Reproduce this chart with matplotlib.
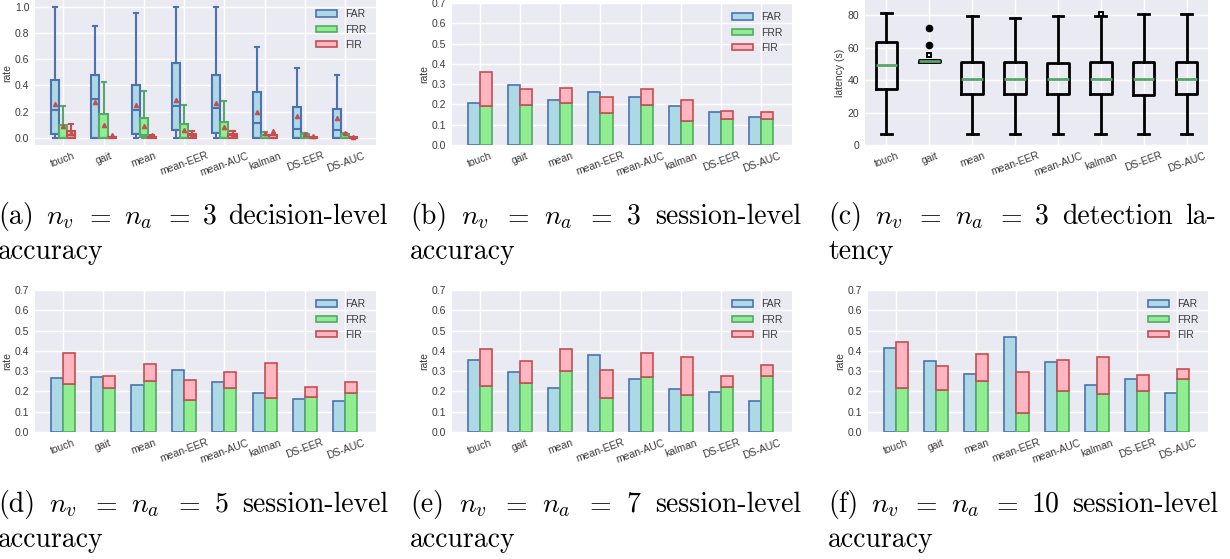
import matplotlib
matplotlib.use("Agg")
import matplotlib.pyplot as plt
from matplotlib.patches import Patch

plt.rcParams['mathtext.fontset'] = 'cm'
plt.rcParams['font.family'] = ['Liberation Sans', 'DejaVu Sans']

# ---------------- data ----------------
methods = ['touch', 'gait', 'mean', 'mean-EER', 'mean-AUC', 'kalman', 'DS-EER', 'DS-AUC']
series_names = ['FAR', 'FRR', 'FIR']

# (a) decision-level accuracy, box statistics per method
far_lo = [0.0, 0.0, 0.0, 0.0, 0.0, 0.0, 0.0, 0.0]
far_q1 = [0.03, 0.0, 0.03, 0.06, 0.04, 0.0, 0.0, 0.0]
far_med = [0.21, 0.30, 0.21, 0.24, 0.225, 0.115, 0.065, 0.06]
far_q3 = [0.44, 0.48, 0.40, 0.57, 0.48, 0.35, 0.235, 0.22]
far_hi = [1.0, 0.85, 0.95, 1.0, 1.0, 0.695, 0.53, 0.48]
far_mean = [0.26, 0.275, 0.25, 0.29, 0.265, 0.20, 0.17, 0.15]

frr_lo = [0.0, 0.0, 0.0, 0.0, 0.0, 0.0, 0.0, 0.0]
frr_q1 = [0.0, 0.0, 0.005, 0.0, 0.0, 0.0, 0.0, 0.0]
frr_med = [0.0, 0.0, 0.02, 0.0, 0.0, 0.0, 0.0, 0.0]
frr_q3 = [0.10, 0.18, 0.15, 0.105, 0.125, 0.02, 0.03, 0.028]
frr_hi = [0.24, 0.425, 0.36, 0.25, 0.285, 0.045, 0.04, 0.04]
frr_mean = [0.09, 0.10, 0.095, 0.063, 0.085, 0.035, 0.033, 0.04]

fir_lo = [0.0, 0.0, 0.0, 0.0, 0.0, 0.0, 0.0, 0.0]
fir_q1 = [0.0, 0.0, 0.0, 0.0, 0.0, 0.0, 0.0, 0.0]
fir_med = [0.02, 0.0, 0.0, 0.02, 0.02, 0.0, 0.0, 0.0]
fir_q3 = [0.05, 0.005, 0.005, 0.03, 0.03, 0.02, 0.005, 0.005]
fir_hi = [0.11, 0.01, 0.02, 0.05, 0.055, 0.02, 0.01, 0.005]
fir_mean = [0.04, 0.025, 0.02, 0.02, 0.02, 0.055, 0.013, 0.005]

# (c) detection latency (s), box statistics per method
lat_lo = [6.5, 51.0, 6.5, 6.5, 6.5, 6.5, 6.5, 6.5]
lat_q1 = [34.5, 51.0, 31.5, 31.5, 31.5, 31.5, 31.0, 31.5]
lat_med = [49.5, 51.7, 41.0, 41.0, 41.0, 41.0, 41.0, 41.0]
lat_q3 = [63.5, 52.3, 51.5, 51.0, 50.7, 51.5, 51.5, 51.5]
lat_hi = [81.5, 52.3, 79.7, 78.5, 79.7, 79.7, 80.8, 80.8]
lat_fliers = [[], [72.2, 61.9], [], [], [], [], [], []]
lat_single_fliers = [[], [55.7], [], [], [], [80.9], [], []]

# (b) n=3 session-level accuracy
s3_far = [0.205, 0.298, 0.22, 0.259, 0.239, 0.193, 0.161, 0.139]
s3_frr = [0.192, 0.198, 0.205, 0.159, 0.198, 0.12, 0.126, 0.126]
s3_fir = [0.167, 0.076, 0.074, 0.080, 0.076, 0.10, 0.040, 0.035]

# (d) n=5 session-level accuracy
s5_far = [0.267, 0.272, 0.232, 0.306, 0.245, 0.193, 0.163, 0.153]
s5_frr = [0.239, 0.216, 0.252, 0.158, 0.216, 0.168, 0.175, 0.194]
s5_fir = [0.148, 0.061, 0.084, 0.099, 0.081, 0.173, 0.047, 0.051]

# (e) n=7 session-level accuracy
s7_far = [0.354, 0.295, 0.217, 0.38, 0.26, 0.214, 0.199, 0.152]
s7_frr = [0.226, 0.24, 0.30, 0.168, 0.273, 0.184, 0.22, 0.277]
s7_fir = [0.184, 0.111, 0.11, 0.14, 0.117, 0.185, 0.057, 0.051]

# (f) n=10 session-level accuracy
s10_far = [0.415, 0.351, 0.285, 0.468, 0.344, 0.232, 0.262, 0.191]
s10_frr = [0.219, 0.209, 0.252, 0.094, 0.203, 0.188, 0.204, 0.259]
s10_fir = [0.226, 0.114, 0.134, 0.203, 0.153, 0.184, 0.078, 0.052]

# ---------------- style ----------------
BG = '#EAEAF2'
TXT = '#3a3a3a'
face = {'FAR': '#ADD8E6', 'FRR': '#90EE90', 'FIR': '#FFB6C1'}
edge = {'FAR': '#4C72B0', 'FRR': '#55A868', 'FIR': '#C44E52'}
FS = 7.5

W, H = 1230, 559
fig = plt.figure(figsize=(W / 100, H / 100), dpi=100)


def add_axes(x0, x1, ytop, ybot):
    ax = fig.add_axes([x0 / W, (H - ybot) / H, (x1 - x0) / W, (ybot - ytop) / H])
    ax.set_facecolor(BG)
    for s in ax.spines.values():
        s.set_visible(False)
    ax.grid(True, color='white', linewidth=1.0)
    ax.set_axisbelow(True)
    ax.tick_params(length=0, labelsize=FS, colors=TXT, pad=4)
    return ax


def style_xticks(ax, pos):
    ax.set_xticks(pos)
    ax.set_xticklabels(methods, rotation=20, ha='center', fontsize=FS, color=TXT)


def legend(ax):
    handles = [Patch(facecolor=face[n], edgecolor=edge[n], linewidth=1.2, label=n)
               for n in series_names]
    ax.legend(handles=handles, loc='upper right', frameon=False, fontsize=FS,
              handlelength=2.0, handleheight=0.6, labelspacing=0.5,
              borderaxespad=0.5, borderpad=0.4, handletextpad=0.8,
              labelcolor=TXT)


def bar_panel(ax, far, frr, fir):
    x = list(range(len(methods)))
    w = 0.3
    xl = [i - w / 2 for i in x]
    xr = [i + w / 2 for i in x]
    ax.bar(xl, far, width=w, color=face['FAR'], edgecolor=edge['FAR'], linewidth=1.2)
    ax.bar(xr, frr, width=w, color=face['FRR'], edgecolor=edge['FRR'], linewidth=1.2)
    ax.bar(xr, fir, width=w, bottom=frr, color=face['FIR'], edgecolor=edge['FIR'],
           linewidth=1.2)
    ax.set_xlim(-0.69, 7.76)
    ax.set_ylim(0, 0.7)
    ax.set_yticks([0.0, 0.1, 0.2, 0.3, 0.4, 0.5, 0.6, 0.7])
    ax.yaxis.set_major_formatter(matplotlib.ticker.FormatStrFormatter('%.1f'))
    style_xticks(ax, x)
    ax.set_ylabel('rate', fontsize=FS, color=TXT, labelpad=2)
    legend(ax)


# ---------------- (a) decision-level box plots ----------------
ax_a = add_axes(35, 376, 0, 145)
groups = [
    ('FAR', far_lo, far_q1, far_med, far_q3, far_hi, far_mean, -0.2),
    ('FRR', frr_lo, frr_q1, frr_med, frr_q3, frr_hi, frr_mean, 0.0),
    ('FIR', fir_lo, fir_q1, fir_med, fir_q3, fir_hi, fir_mean, 0.2),
]
for name, lo, q1, med, q3, hi, mn, off in groups:
    stats = [dict(whislo=lo[i], q1=q1[i], med=med[i], q3=q3[i], whishi=hi[i],
                  mean=mn[i], fliers=[]) for i in range(len(methods))]
    c = edge[name]
    ax_a.bxp(stats, positions=[i + off for i in range(len(methods))], widths=0.2,
             patch_artist=True, showmeans=True, manage_ticks=False,
             boxprops=dict(facecolor=face[name], edgecolor=c, linewidth=1.5),
             whiskerprops=dict(color=c, linewidth=1.5),
             capprops=dict(color=c, linewidth=1.5),
             medianprops=dict(color=c, linewidth=1.5),
             meanprops=dict(marker='^', markerfacecolor='#C44E52',
                            markeredgecolor='#C44E52', markersize=3))
ax_a.set_xlim(-0.7, 7.76)
ax_a.set_ylim(-0.053, 1.05)
ax_a.set_yticks([0.0, 0.2, 0.4, 0.6, 0.8, 1.0])
ax_a.yaxis.set_major_formatter(matplotlib.ticker.FormatStrFormatter('%.1f'))
style_xticks(ax_a, list(range(len(methods))))
ax_a.set_ylabel('rate', fontsize=FS, color=TXT, labelpad=2)
legend(ax_a)

# ---------------- (b) ----------------
ax_b = add_axes(452, 792, 3, 145)
bar_panel(ax_b, s3_far, s3_frr, s3_fir)

# ---------------- (c) latency box plots ----------------
ax_c = add_axes(865, 1208, 0, 145)
lat_stats = [dict(whislo=lat_lo[i], q1=lat_q1[i], med=lat_med[i], q3=lat_q3[i],
                  whishi=lat_hi[i], fliers=lat_fliers[i]) for i in range(len(methods))]
pos_c = list(range(1, len(methods) + 1))
ax_c.bxp(lat_stats, positions=pos_c, widths=0.5, manage_ticks=False,
         boxprops=dict(color='black', linewidth=2.0),
         whiskerprops=dict(color='black', linewidth=2.0),
         capprops=dict(color='black', linewidth=2.0),
         medianprops=dict(color='#55A868', linewidth=2.0),
         flierprops=dict(marker='o', markerfacecolor='black', markeredgecolor='black',
                         markersize=4.5))
# isolated single outliers drawn as small open markers
for p, vals in zip(pos_c, lat_single_fliers):
    if vals:
        ax_c.plot([p] * len(vals), vals, linestyle='none', marker='s',
                  markerfacecolor='white', markeredgecolor='black',
                  markersize=3.2, markeredgewidth=1.4)
ax_c.set_xlim(0.5, 8.5)
ax_c.set_ylim(0, 89.5)
ax_c.set_yticks([0, 20, 40, 60, 80])
style_xticks(ax_c, pos_c)
ax_c.set_ylabel('latency (s)', fontsize=FS, color=TXT, labelpad=2)

# ---------------- (d), (e), (f) ----------------
ax_d = add_axes(35, 376, 290, 432)
bar_panel(ax_d, s5_far, s5_frr, s5_fir)
ax_e = add_axes(452, 792, 290, 432)
bar_panel(ax_e, s7_far, s7_frr, s7_fir)
ax_f = add_axes(868, 1208, 290, 432)
bar_panel(ax_f, s10_far, s10_frr, s10_fir)

# ---------------- sub-captions (justified first line) ----------------
CAP_FS = 20
renderer = fig.canvas.get_renderer()


def caption(x0, x1, ybase, tokens, second):
    txts = [fig.text(0, (H - ybase) / H, t, fontsize=CAP_FS, family='cmr10',
                     va='baseline', ha='left', color='black') for t in tokens]
    widths = [t.get_window_extent(renderer).width for t in txts]
    gap = (x1 - x0 - sum(widths)) / (len(tokens) - 1)
    x = x0
    for t, w in zip(txts, widths):
        t.set_x(x / W)
        x += w + gap
    fig.text(x0 / W, (H - ybase - 35) / H, second, fontsize=CAP_FS, family='cmr10',
             va='baseline', ha='left', color='black')


def tokens(letter, n, words):
    return ['(%s)' % letter, r'$n_v$', r'$=$', r'$n_a$', r'$=$', n] + words


caption(-2, 388, 224, tokens('a', '3', ['decision-level']), 'accuracy')
caption(410, 801, 224, tokens('b', '3', ['session-level']), 'accuracy')
caption(828, 1216, 224, tokens('c', '3', ['detection', 'la-']), 'tency')
caption(-2, 388, 512, tokens('d', '5', ['session-level']), 'accuracy')
caption(410, 801, 512, tokens('e', '7', ['session-level']), 'accuracy')
caption(828, 1218, 512, tokens('f', '10', ['session-level']), 'accuracy')

fig.savefig('out.png', dpi=100)
